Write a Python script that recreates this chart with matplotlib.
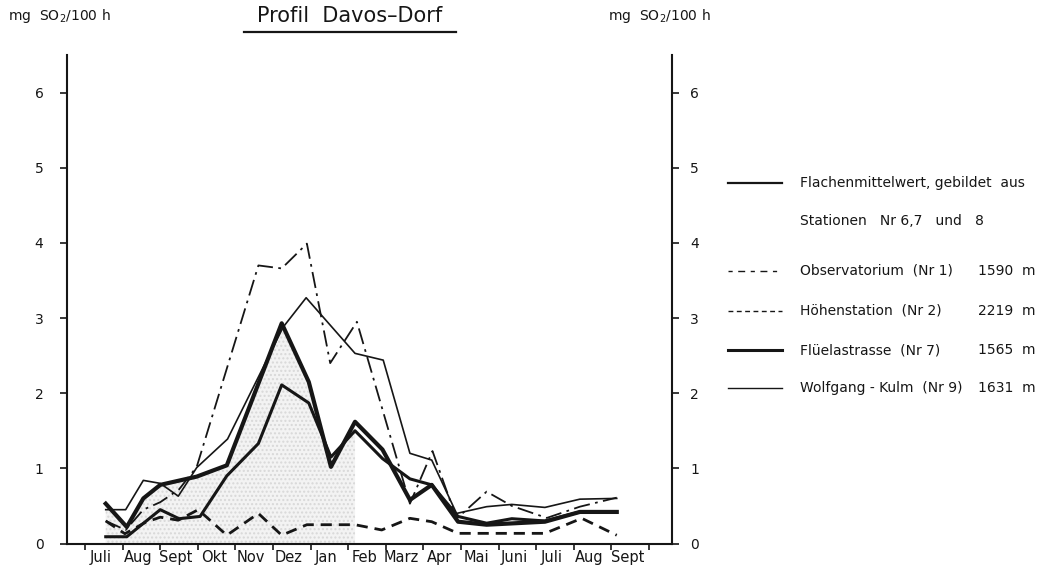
import matplotlib
matplotlib.use('Agg')
import matplotlib.pyplot as plt
from matplotlib.lines import Line2D

months = ['Juli', 'Aug', 'Sept', 'Okt', 'Nov', 'Dez', 'Jan', 'Feb', 'Marz',
          'Apr', 'Mai', 'Juni', 'Juli', 'Aug', 'Sept']

# Zeit in Monaten ab Anfang Juli, Werte in mg SO2/100 h
mittel_x = [0.55, 1.11, 2.0, 2.5, 3.06, 3.77, 4.61, 5.23, 5.95, 6.54, 7.18, 7.91,
            8.64, 9.22, 9.92, 10.68, 11.35, 12.23, 13.16, 14.14]
mittel_y = [0.09, 0.09, 0.45, 0.33, 0.36, 0.9, 1.33, 2.11, 1.87, 1.15, 1.5, 1.13,
            0.86, 0.78, 0.36, 0.27, 0.33, 0.3, 0.42, 0.42]

obs_x = [0.55, 1.08, 1.55, 2.0, 2.5, 2.97, 4.61, 5.23, 5.9, 6.52, 7.23, 8.64,
         9.24, 9.88, 10.68, 11.35, 12.28, 13.16, 14.14]
obs_y = [0.3, 0.18, 0.45, 0.55, 0.72, 1.02, 3.7, 3.66, 3.99, 2.4, 2.95, 0.53,
         1.23, 0.33, 0.69, 0.5, 0.34, 0.49, 0.61]

hoehe_x = [0.55, 1.06, 1.6, 2.0, 2.48, 3.01, 3.77, 4.61, 5.23, 5.9, 6.52, 7.18,
           7.89, 8.64, 9.22, 9.92, 12.23, 13.21, 14.14]
hoehe_y = [0.3, 0.13, 0.28, 0.35, 0.31, 0.45, 0.11, 0.4, 0.11, 0.25, 0.25, 0.25,
           0.18, 0.335, 0.29, 0.135, 0.135, 0.335, 0.11]

flueela_x = [0.55, 1.11, 1.55, 2.0, 2.97, 3.77, 5.23, 5.95, 6.54, 7.18, 7.91,
             8.64, 9.22, 9.92, 10.68, 12.23, 13.16, 14.14]
flueela_y = [0.53, 0.22, 0.6, 0.78, 0.89, 1.04, 2.93, 2.15, 1.02, 1.62, 1.25,
             0.58, 0.78, 0.29, 0.25, 0.29, 0.42, 0.42]

wolf_x = [0.55, 1.08, 1.55, 2.0, 2.48, 2.97, 3.79, 5.27, 5.88, 7.18, 7.93, 8.64,
          9.22, 9.88, 10.68, 11.35, 12.23, 13.16, 14.14]
wolf_y = [0.45, 0.45, 0.84, 0.8, 0.63, 1.01, 1.39, 2.88, 3.27, 2.53, 2.44, 1.2,
          1.11, 0.4, 0.49, 0.52, 0.48, 0.59, 0.6]

W, H = 1051, 565
fig = plt.figure(figsize=(W / 100, H / 100), dpi=100)
ax = fig.add_axes([67 / W, 21.5 / H, 605 / W, 488.5 / H])

ink = '#161616'

# gepunktete Flaeche unter Flueelastrasse
ax.fill_between(flueela_x[:10], flueela_y[:10], 0, facecolor='#f3f3f3',
                edgecolor='#d8d8d8', hatch='....', lw=0, zorder=1)

ax.plot(hoehe_x, hoehe_y, color=ink, lw=2.0, dashes=(4, 2.5), zorder=3)
ax.plot(obs_x, obs_y, color=ink, lw=1.3, dashes=(9, 3, 1.5, 3), zorder=3)
ax.plot(wolf_x, wolf_y, color=ink, lw=1.2, zorder=4)
ax.plot(mittel_x, mittel_y, color=ink, lw=2.2, zorder=4)
ax.plot(flueela_x, flueela_y, color=ink, lw=3.0, zorder=5)

ax.set_xlim(-0.48, 15.61)
ax.set_ylim(0, 6.5)

ax.spines['top'].set_visible(False)
for s in ['left', 'right', 'bottom']:
    ax.spines[s].set_linewidth(1.5)
    ax.spines[s].set_color(ink)

ax.set_yticks(range(7))
ax.tick_params(axis='y', direction='out', length=5, width=1.2, labelsize=10,
               colors=ink, pad=12)

# rechte Skala
ax2 = ax.secondary_yaxis('right')
ax2.set_yticks(range(7))
ax2.spines['right'].set_visible(False)
ax2.tick_params(axis='y', direction='out', length=5, width=1.2, labelsize=10,
                colors=ink, pad=8)

ax.set_xticks(range(16))
ax.set_xticklabels([])
ax.set_xticks([k + 0.42 for k in range(15)], minor=True)
ax.set_xticklabels(months, minor=True, fontsize=10.5, color=ink)
ax.tick_params(axis='x', which='major', direction='out', length=4, width=1.2, color=ink)
ax.tick_params(axis='x', which='minor', length=0, pad=5)


def px(x, y):
    return x / W, 1 - y / H


# Achsenbeschriftungen oben
fig.text(*px(8, 16), 'mg  SO$_2$/100 h', fontsize=10, color=ink, va='center', ha='left')
fig.text(*px(608, 16), 'mg  SO$_2$/100 h', fontsize=10, color=ink, va='center', ha='left')
fig.text(*px(350, 16), 'Profil  Davos\u2013Dorf', fontsize=15, color=ink, va='center', ha='center')
fig.add_artist(Line2D([244 / W, 456 / W], [1 - 32 / H, 1 - 32 / H], color=ink, lw=1.6))

# Legende
legend_rows = [
    (183, dict(lw=1.6), 'Flachenmittelwert, gebildet  aus', ''),
    (271, dict(lw=1.0, dashes=(3, 4, 5, 4)), 'Observatorium  (Nr 1)', '1590  m'),
    (311, dict(lw=1.0, dashes=(3.5, 2.5)), 'Höhenstation  (Nr 2)', '2219  m'),
    (350, dict(lw=2.2), 'Flüelastrasse  (Nr 7)', '1565  m'),
    (388, dict(lw=1.0), 'Wolfgang - Kulm  (Nr 9)', '1631  m'),
]
for y, style, label, alt in legend_rows:
    fig.add_artist(Line2D([728 / W, 782 / W], [1 - y / H, 1 - y / H], color=ink, **style))
    fig.text(*px(800, y), label, fontsize=10, color=ink, va='center', ha='left')
    if alt:
        fig.text(*px(978, y), alt, fontsize=10, color=ink, va='center', ha='left')
fig.text(*px(800, 221), 'Stationen   Nr 6,7   und   8', fontsize=10, color=ink, va='center', ha='left')

fig.savefig('out.png', dpi=100, facecolor='white')
